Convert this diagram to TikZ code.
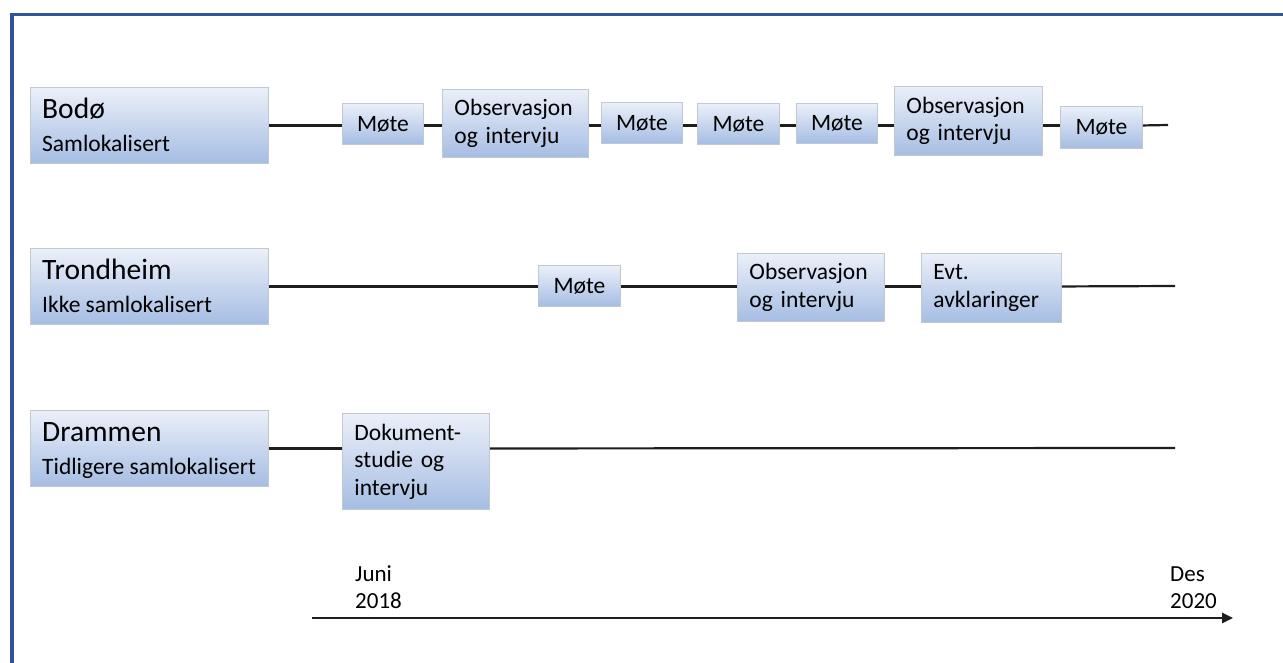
\documentclass[tikz,border=0pt]{standalone}
\usepackage{fontspec}
\setmainfont{Carlito}
\usetikzlibrary{arrows.meta}
\definecolor{frameblue}{HTML}{2F5597}
\definecolor{boxtop}{HTML}{EBF0F9}
\definecolor{boxbot}{HTML}{A5BDE3}
\definecolor{boxedge}{HTML}{C2C8D2}
\definecolor{linegray}{HTML}{1E1E1E}
\tikzset{
  bx/.style={draw=boxedge, line width=0.9pt, top color=boxtop, bottom color=boxbot,
    shading angle=0, inner sep=0pt, font=\fontsize{23.5}{27.5}\selectfont},
  sitebox/.style={bx, anchor=north west, minimum width=238pt, minimum height=76pt},
  tl/.style={draw=linegray, line width=2.2pt},
  ttl/.style={anchor=base west, inner sep=0pt, font=\fontsize{29.5}{32}\selectfont},
  sub/.style={anchor=base west, inner sep=0pt, font=\fontsize{23.5}{27}\selectfont},
  lbl/.style={anchor=base west, inner sep=0pt, font=\fontsize{23}{27}\selectfont}
}
\newcommand{\mybox}[6]{% name, x1, y1, x2, y2, text
  \node[bx, anchor=north west, minimum width={#4-#2}, minimum height={#5-#3},
        text width={#4-#2-24}, align=left] (#1) at (#2,#3) {#6};}
\newcommand{\mote}[5]{% name, x1, y1, x2, y2
  \node[bx, anchor=north west, minimum width={#4-#2}, minimum height={#5-#3}, align=center] (#1) at (#2,#3) {Møte};}
\begin{document}
\begin{tikzpicture}[x=1pt,y=-1pt]
\useasboundingbox (0,0) rectangle (1283,662);
\fill[white] (0,0) rectangle (1283,662);
% frame
\draw[frameblue, line width=3.5pt] (12,663) -- (12,14.5) -- (1284,14.5);

% site boxes
\node[sitebox] (bodo) at (30,87) {};
\node[ttl] (bodot) at (42,118) {Bodø};
\node[sub] (bodos) at (42,151) {Samlokalisert};

\node[sitebox] (trond) at (30,248) {};
\node[ttl] (trondt) at (42,279) {Trondheim};
\node[sub] (tronds) at (42,312) {Ikke samlokalisert};

\node[sitebox] (dram) at (30,410) {};
\node[ttl] (dramt) at (42,441) {Drammen};
\node[sub] (drams) at (42,474) {Tidligere samlokalisert};

% row 1
\mote{m1}{342}{103}{423}{144}
\mybox{o1}{442}{89}{588}{157}{Observasjon\\og intervju}
\mote{m2}{601}{102}{682}{143}
\mote{m3}{697}{103}{779}{144}
\mote{m4}{796}{103}{877}{143}
\mybox{o2}{894}{86}{1042}{155}{Observasjon\\og intervju}
\mote{m5}{1060}{106}{1142}{148}
\coordinate (e1) at (1168,125);
\foreach \a/\b in {bodo/m1,m1/o1,o1/m2,m2/m3,m3/m4,m4/o2,o2/m5}
  \draw[tl] (bodo.east -| \a.east) -- (bodo.east -| \b.west);
\draw[tl] (bodo.east -| m5.east) -- (e1);

% row 2
\mote{tm}{538}{265}{620}{306}
\mybox{to}{737}{253}{884}{321}{Observasjon\\og intervju}
\mybox{te}{921}{253}{1061}{322}{Evt.\\avklaringer}
\coordinate (e2) at (1175,286);
\foreach \a/\b in {trond/tm,tm/to,to/te}
  \draw[tl] (trond.east -| \a.east) -- (trond.east -| \b.west);
\draw[tl] (trond.east -| te.east) -- (e2);

% row 3
\mybox{dd}{342}{413}{489}{509}{Dokument-\\studie og\\intervju}
\coordinate (e3) at (1175,448);
\draw[tl] (dram.east) -- (dram.east -| dd.west);
\draw[tl] (dram.east -| dd.east) -- (e3);

% time axis
\coordinate (a0) at (312,618);
\coordinate (a1) at (1233,618);
\draw[tl, line width=2.5pt, -{Triangle[length=11pt,width=10pt]}] (a0) -- (a1);
\node[lbl] (j1) at (355,581) {Juni};
\node[lbl] (j2) at (355,608) {2018};
\node[lbl] (d1) at (1170,581) {Des};
\node[lbl] (d2) at (1170,608) {2020};
\end{tikzpicture}
\end{document}
